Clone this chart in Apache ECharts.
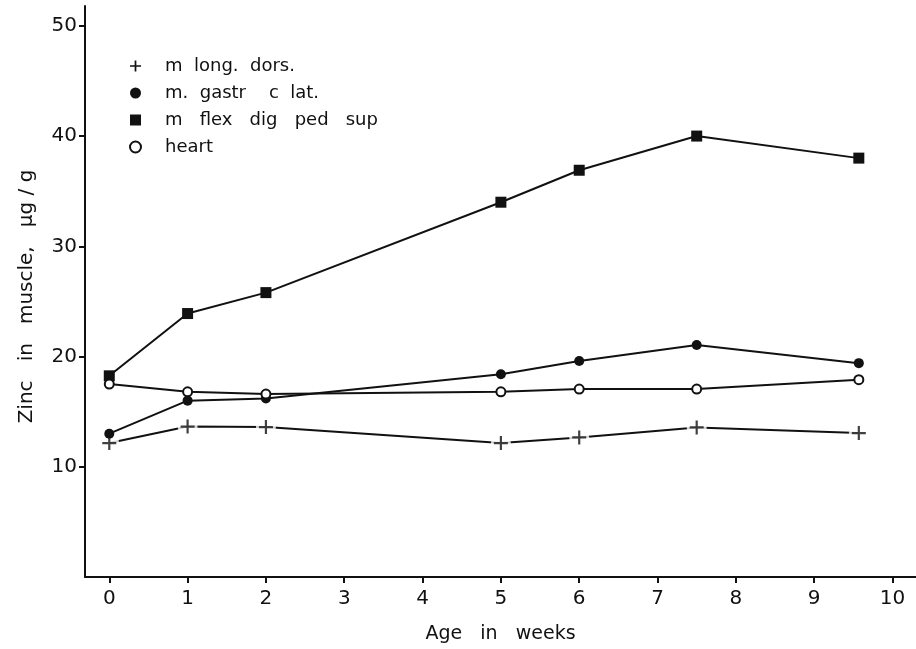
<!DOCTYPE html>
<html>
<head>
<meta charset="utf-8">
<script src="https://cdn.jsdelivr.net/npm/echarts@6/dist/echarts.min.js"></script>
<style>
html,body{margin:0;padding:0;background:#fff;}
#chart{width:916px;height:649px;}
</style>
</head>
<body>
<div id="chart"></div>
<script>
var weeks = [0, 1, 2, 5, 6, 7.5, 9.57];
var longDors = [12.15, 13.65, 13.6, 12.15, 12.66, 13.57, 13.06];
var gastr = [13.0, 16.0, 16.2, 18.4, 19.6, 21.05, 19.4];
var flexDig = [18.25, 23.9, 25.8, 34.0, 36.9, 40.0, 38.0];
var heart = [17.5, 16.8, 16.6, 16.8, 17.05, 17.05, 17.9];
var xTicks = [0, 1, 2, 3, 4, 5, 6, 7, 8, 9, 10];
var yTicks = [10, 20, 30, 40, 50];
var names = ['m  long.  dors.', 'm.  gastr    c  lat.', 'm   flex   dig   ped   sup', 'heart'];

function pairs(ys) { return weeks.map(function (w, i) { return [w, ys[i]]; }); }

var INK = '#111';
var FONT = 'DejaVu Sans';
var plusPath = 'path://M-1.1,-7 H1.1 V-1.1 H7 V1.1 H1.1 V7 H-1.1 V1.1 H-7 V-1.1 H-1.1 Z';

var chart = echarts.init(document.getElementById('chart'), null, {renderer: 'canvas'});
chart.setOption({
  animation: false,
  backgroundColor: '#fff',
  grid: {left: 85, right: 0, top: 6, bottom: 72, containLabel: false},
  legend: {
    orient: 'vertical',
    left: 124,
    top: 51,
    itemWidth: 11,
    itemHeight: 11,
    itemGap: 7,
    selectedMode: false,
    textStyle: {fontFamily: FONT, fontSize: 18, color: INK, lineHeight: 20, padding: [0, 0, 0, 19]},
    data: [
      {name: names[0], icon: plusPath},
      {name: names[1], icon: 'circle'},
      {name: names[2], icon: 'rect'},
      {name: names[3], icon: 'circle'}
    ]
  },
  xAxis: {
    type: 'value',
    min: -0.31,
    max: 10.3,
    name: 'Age   in   weeks',
    nameLocation: 'middle',
    nameGap: 48,
    nameTextStyle: {fontFamily: FONT, fontSize: 19, color: INK},
    axisLine: {show: true, onZero: false, lineStyle: {color: INK, width: 2}},
    axisTick: {show: true, length: 6, lineStyle: {color: INK, width: 2}, customValues: xTicks},
    axisLabel: {margin: 12, fontFamily: FONT, fontSize: 20, color: INK, customValues: xTicks},
    splitLine: {show: false}
  },
  yAxis: {
    type: 'value',
    min: 0,
    max: 51.8,
    name: 'Zinc   in   muscle,   μg / g',
    nameLocation: 'middle',
    nameGap: 48,
    nameTextStyle: {fontFamily: FONT, fontSize: 20, color: INK, padding: [0, 10, 0, 0]},
    axisLine: {show: true, onZero: false, lineStyle: {color: INK, width: 2}},
    axisTick: {show: true, length: 6, lineStyle: {color: INK, width: 2}, customValues: yTicks},
    axisLabel: {margin: 8, fontFamily: FONT, fontSize: 20, color: INK, customValues: yTicks},
    splitLine: {show: false}
  },
  series: [
    {
      name: names[0], type: 'line', data: pairs(longDors), z: 1,
      symbol: plusPath, symbolSize: 0.001, showSymbol: true,
      itemStyle: {color: INK},
      lineStyle: {color: INK, width: 2}
    },
    {
      name: 'plusGap', type: 'scatter', data: pairs(longDors), z: 2,
      symbol: 'circle', symbolSize: 20, silent: true,
      itemStyle: {color: '#fff'}
    },
    {
      name: 'plusMark', type: 'scatter', data: pairs(longDors), z: 6,
      symbol: plusPath, symbolSize: 14, silent: true,
      itemStyle: {color: INK}
    },
    {
      name: names[1], type: 'line', data: pairs(gastr), z: 3,
      symbol: 'circle', symbolSize: 10,
      itemStyle: {color: INK},
      lineStyle: {color: INK, width: 2}
    },
    {
      name: names[2], type: 'line', data: pairs(flexDig), z: 3,
      symbol: 'rect', symbolSize: 11,
      itemStyle: {color: INK},
      lineStyle: {color: INK, width: 2}
    },
    {
      name: names[3], type: 'line', data: pairs(heart), z: 4,
      symbol: 'circle', symbolSize: 9,
      itemStyle: {color: '#fff', borderColor: INK, borderWidth: 2},
      lineStyle: {color: INK, width: 2}
    }
  ]
});
</script>
</body>
</html>
